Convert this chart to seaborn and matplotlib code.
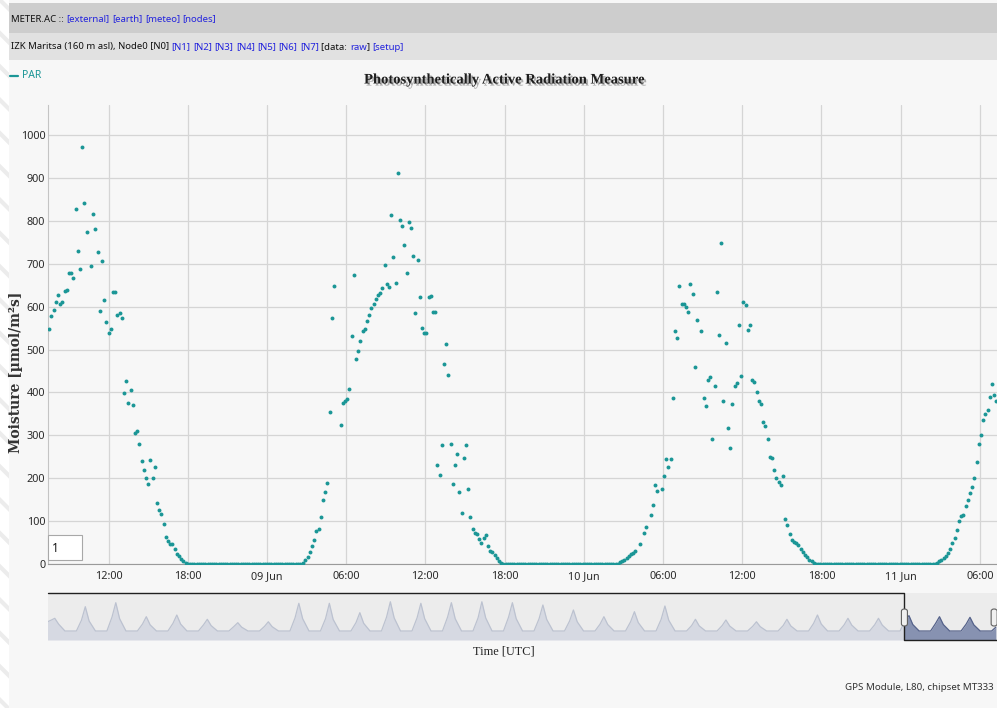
import numpy as np
import pandas as pd
import matplotlib
matplotlib.use("Agg")
import matplotlib.pyplot as plt
import matplotlib.dates as mdates
import matplotlib.patheffects as pe
from matplotlib.patches import Rectangle, FancyBboxPatch
from matplotlib.lines import Line2D
import seaborn as sns

# ---------------- data (PAR, 10-minute samples) ----------------
nan = np.nan
day1_start = "2019-06-08 07:30"
day1_par = [548, 578, 592, 611, 628, 607, 611, 636, 638, 678,
            678, 666, 827, 730, 687, 973, 842, 775, nan, 694,
            815, 782, 727, 589, 707, 616, 563, 538, 547, 633,
            633, 580, 585, 573, 398, 427, 375, 406, 370, 305,
            309, 279, 239, 219, 201, 186, 242, 201, 225, 143,
            126, 116, 93, 64, 53, 46, 46, 34, 24, 18,
            12, 6, 2]
night1_start = "2019-06-08 18:00"
night1_par = [0] * 52
day2_start = "2019-06-09 02:45"
day2_par = [3, 9, 17, 28, 41, 57, 77, 81, 110, 149,
            168, 188, 355, 573, 649, nan, nan, 324, 375, 380,
            385, 409, 532, 673, 478, 497, 519, 543, 548, 567,
            580, 596, 607, 617, 626, 632, 644, 697, 653, 646,
            814, 716, 656, 911, 803, 789, 743, 678, 797, 783,
            717, 585, 709, 623, 551, 538, 538, 622, 625, 588,
            588, 231, 208, 277, 466, 514, 440, 279, 186, 231,
            256, 167, 120, 247, 277, 174, 110, 81, 72, 70,
            58, 50, 61, 68, 43, 31, 28, 21, 13, 7,
            3]
night2_start = "2019-06-09 17:55"
night2_par = [0] * 53
day3_start = "2019-06-10 02:45"
day3_par = [4, 6, 9, 14, 19, 23, 25, 30, nan, 47,
            nan, 73, 86, nan, 114, 137, 185, 171, nan, 174,
            204, 245, 227, 245, 387, 542, 528, 649, 606, 605,
            598, 588, 653, 629, 459, 568, nan, 542, 388, 368,
            429, 435, 291, 414, 635, 535, 748, 380, 516, 317,
            270, 372, 416, 421, 556, 438, 610, 604, 545, 556,
            430, 425, 402, 380, 372, 330, 322, 292, 250, 248,
            218, 200, 192, 185, 205, 104, 92, 70, 56, 52,
            50, 44, 36, 28, 22, 16, 10, 6, 3, 1]
night3_start = "2019-06-10 17:45"
night3_par = [0] * 54
day4_start = "2019-06-11 02:45"
day4_par = [3, 6, 9, 13, 18, 26, 36, 48, 60, 80,
            100, 112, 114, 135, 150, 165, 180, 200, 238, 280,
            300, 335, 350, 360, 390, 420, 395, 380]

# navigator (whole history, daily shape: 04h, 08h, 11h, 14h, 19h)
nav_first_day = "2019-05-11"
nav_hours = [4, 8, 11, 14, 19]
nav_am = [700, 700, 900, 450, 500, 400, 300, 300, 850, 800, 550, 900, 850, 900, 850, 900,
          800, 650, 450, 600, 750, 350, 350, 300, 350, 500, 400, 400, 700, 500, 450]
nav_peak = [825, 1580, 1840, 930, 1040, 760, 540, 600, 1800, 1800, 1190, 1900, 1800, 1840,
            1900, 1840, 1690, 1365, 930, 1255, 1625, 760, 715, 600, 760, 1040, 825, 825,
            1000, 930, 890]
nav_pm = [450, 650, 800, 400, 450, 350, 250, 280, 800, 750, 500, 850, 800, 800, 850, 800,
          750, 600, 420, 550, 700, 330, 320, 280, 330, 450, 380, 380, 420, 420, 400]
nav_tail_times = ["2019-06-11 04:00", "2019-06-11 07:20"]
nav_tail_vals = [0, 250]

x_ticks_fmt_day = "%d %b"
x_ticks_fmt_hour = "%H:%M"
y_ticks = list(range(0, 1001, 100))

# ---------------- build tables ----------------
segments = [(day1_start, day1_par), (night1_start, night1_par),
            (day2_start, day2_par), (night2_start, night2_par),
            (day3_start, day3_par), (night3_start, night3_par),
            (day4_start, day4_par)]
frames = []
for start, vals in segments:
    t = pd.date_range(start, periods=len(vals), freq="10min")
    frames.append(pd.DataFrame({"time": t, "PAR": np.array(vals, dtype=float)}))
df = pd.concat(frames, ignore_index=True)

nav_rows = []
for i, d in enumerate(pd.date_range(nav_first_day, periods=len(nav_peak), freq="D")):
    vals = [0, nav_am[i], nav_peak[i], nav_pm[i], 0]
    if i == 0:
        vals[0] = 550
    for hh, v in zip(nav_hours, vals):
        nav_rows.append((d + pd.Timedelta(hours=hh), v))
for tt, v in zip(nav_tail_times, nav_tail_vals):
    nav_rows.append((pd.Timestamp(tt), v))
nav_df = pd.DataFrame(nav_rows, columns=["time", "PAR"])

# ---------------- figure ----------------
sns.set_style("white")
NARROW = ['Noto Sans', 'DejaVu Sans']
NSTRETCH = 'condensed'
plt.rcParams['font.family'] = NARROW
plt.rcParams['font.stretch'] = NSTRETCH
plt.rcParams['hatch.linewidth'] = 3.0

W, H = 997, 708
fig = plt.figure(figsize=(W / 100, H / 100), dpi=100)
fig.patch.set_facecolor('#f7f7f7')


def fx(x):
    return x / W


def fy(y):
    return 1 - y / H


# left hatched strip
fig.add_artist(Rectangle((0, 0), fx(9), 1, transform=fig.transFigure,
                         facecolor='#ffffff', edgecolor='#ececec', hatch='\\', lw=0, zorder=0))
# header bars
fig.add_artist(Rectangle((fx(9), fy(33)), fx(W - 9), 30 / H, transform=fig.transFigure,
                         facecolor='#cdcdcd', edgecolor='none', zorder=0.5))
fig.add_artist(Rectangle((fx(9), fy(60)), fx(W - 9), 27 / H, transform=fig.transFigure,
                         facecolor='#e1e1e1', edgecolor='none', zorder=0.5))

renderer = fig.canvas.get_renderer()
BLUE = '#2323dd'


def colored_line(x_px, y_px, pieces, size=6.9):
    x = x_px
    for s, c in pieces:
        t = fig.text(fx(x), fy(y_px), s, color=c, va='center', ha='left',
                     fontsize=size, family=NARROW, fontstretch=NSTRETCH)
        bb = t.get_window_extent(renderer=renderer)
        x += bb.width


colored_line(11, 19, [("METER.AC :: ", "#111111"), ("[external]", BLUE),
                      (" ", "#111111"), ("[earth]", BLUE), (" ", "#111111"), ("[meteo]", BLUE),
                      (" ", "#111111"), ("[nodes]", BLUE)])
pieces2 = [("IZK Maritsa (160 m asl), Node0 [N0] ", "#111111")]
for k in range(1, 8):
    pieces2.append((f"[N{k}]", BLUE))
    pieces2.append((" ", "#111111"))
pieces2 += [("[data: ", "#111111"), ("raw", BLUE), ("] ", "#111111"), ("[setup]", BLUE)]
colored_line(11, 47, pieces2)

TEAL = '#1b9696'
# legend
fig.add_artist(Line2D([fx(10), fx(18)], [fy(76), fy(76)], transform=fig.transFigure,
                      color=TEAL, lw=1.6))
fig.text(fx(22), fy(76), "PAR", color=TEAL, fontsize=7.5, va='center', ha='left',
         family=NARROW, fontstretch=NSTRETCH, fontweight='semibold')

# title
fig.text(fx(505), fy(80), "Photosynthetically Active Radiation Measure", ha='center', va='center',
         family=['Liberation Serif', 'DejaVu Serif'], fontweight='bold', fontsize=10.5,
         fontstretch='normal', color='#1e1e1e',
         path_effects=[pe.withSimplePatchShadow(offset=(1.5, -1.5), shadow_rgbFace='#666666', alpha=0.5)])

# ---------------- main axes ----------------
ax = fig.add_axes([fx(48), fy(564), (W - 48) / W, (564 - 105) / H])
ax.set_facecolor('none')
sns.scatterplot(data=df, x="time", y="PAR", ax=ax, color=TEAL, s=8, linewidth=0,
                marker='o', legend=False, zorder=3)
main_left = pd.Timestamp("2019-06-08 07:25")
main_right = pd.Timestamp("2019-06-11 07:18")
ax.set_xlim(main_left, main_right)
ax.set_ylim(0, 1070)
ax.set_yticks(y_ticks)
ax.xaxis.set_major_locator(mdates.HourLocator(byhour=[0, 6, 12, 18]))


def fmt_x(v, pos=None):
    d = mdates.num2date(v)
    return d.strftime(x_ticks_fmt_day) if d.hour == 0 else d.strftime(x_ticks_fmt_hour)


ax.xaxis.set_major_formatter(plt.FuncFormatter(fmt_x))
ax.grid(True, color='#d5d5d5', lw=0.9)
ax.set_axisbelow(True)
for s in ['top', 'right']:
    ax.spines[s].set_visible(False)
ax.spines['left'].set_color('#c4c4c4')
ax.spines['bottom'].set_color('#9a9a9a')
ax.tick_params(axis='both', length=0, labelsize=7.8, labelcolor='#2a2a2a')
ax.tick_params(axis='y', pad=2)
ax.tick_params(axis='x', pad=5)
for lab in ax.get_xticklabels() + ax.get_yticklabels():
    lab.set_fontstretch(NSTRETCH)
ax.set_xlabel("")
ax.set_ylabel("")

fig.text(fx(16), fy(372), "Moisture [µmol/m²s]", rotation=90, ha='center', va='center',
         family=['DejaVu Serif'], fontweight='bold', fontsize=10, fontstretch='normal',
         color='#333333')

# range input box
fig.add_artist(Rectangle((fx(48), fy(560)), fx(34), 25 / H, transform=fig.transFigure,
                         facecolor='white', edgecolor='#a8a8a8', lw=0.8, zorder=5))
fig.text(fx(52), fy(548), "1", fontsize=8.5, va='center', ha='left', color='#111111', zorder=6)

# ---------------- navigator ----------------
nav = fig.add_axes([fx(48), fy(640), (W - 48) / W, (640 - 593) / H])
nav.set_facecolor('#ececec')
nav_left = pd.Timestamp("2019-05-11 05:40")
nav_right = pd.Timestamp("2019-06-11 08:15")
nav.set_xlim(nav_left, nav_right)
nav.set_ylim(-585, 2470)
xsel = (mdates.date2num(main_left) - mdates.date2num(nav_left)) / \
       (mdates.date2num(nav_right) - mdates.date2num(nav_left))
clip_un = Rectangle((0, 0), xsel, 1, transform=nav.transAxes)
clip_sel = Rectangle((xsel, 0), 1 - xsel, 1, transform=nav.transAxes)

f1 = nav.fill_between(nav_df["time"], nav_df["PAR"], -585, color='#d6d9e2', lw=0)
f1.set_clip_path(clip_un)
sns.lineplot(data=nav_df, x="time", y="PAR", ax=nav, color='#bcc2d0', lw=0.9)
nav.lines[-1].set_clip_path(clip_un)
f2 = nav.fill_between(nav_df["time"], nav_df["PAR"], -585, color='#8792b1', lw=0)
f2.set_clip_path(clip_sel)
sns.lineplot(data=nav_df, x="time", y="PAR", ax=nav, color='#55628a', lw=0.9)
nav.lines[-1].set_clip_path(clip_sel)

nav.set_xticks([])
nav.set_yticks([])
nav.set_xlabel("")
nav.set_ylabel("")
for s in nav.spines.values():
    s.set_visible(False)
nav.add_line(Line2D([0, xsel, xsel, 1], [1, 1, 0, 0], transform=nav.transAxes,
                    color='#202020', lw=1.0, clip_on=False))
for hx in [xsel, 0.997]:
    fig.add_artist(FancyBboxPatch((fx(48 + hx * (W - 48)) - fx(3), fy(626)), fx(6), 17 / H,
                                  boxstyle="round,pad=0,rounding_size=0.003",
                                  transform=fig.transFigure, facecolor='#f0f0f0',
                                  edgecolor='#606060', lw=0.8, zorder=6))

fig.text(fx(504), fy(651), "Time [UTC]", ha='center', va='center',
         family=['Liberation Serif', 'DejaVu Serif'], fontsize=8.8, fontstretch='normal',
         color='#222222')
fig.text(fx(994), fy(688), "GPS Module, L80, chipset MT333", ha='right', va='center',
         fontsize=7, color='#333333', family=NARROW, fontstretch=NSTRETCH)

fig.savefig("out.png", dpi=100, facecolor=fig.get_facecolor())
